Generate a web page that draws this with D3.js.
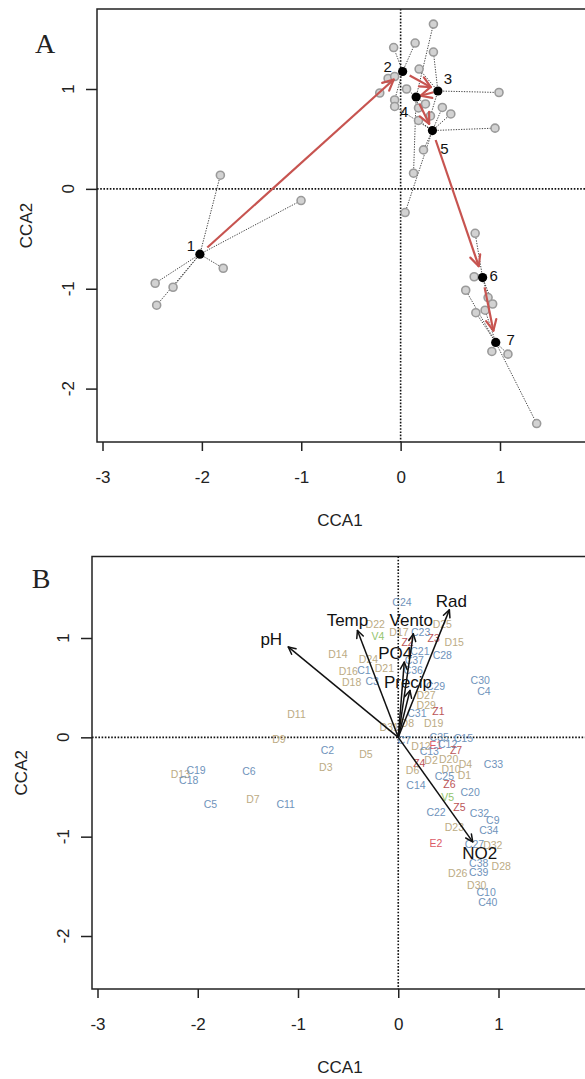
<!DOCTYPE html>
<html>
<head>
<meta charset="utf-8">
<script src="https://cdn.jsdelivr.net/npm/d3@7"></script>
<style>
  body { margin: 0; background: #fff; }
  svg { display: block; font-family: "Liberation Sans", Arial, sans-serif; }
</style>
</head>
<body>
<div id="chart"></div>
<script>
// ---------- 資料 : panel A (時間軌跡) ----------
var stepNames = ["1", "2", "3", "4", "5", "6", "7"];
var stepX = [-2.02, 0.02, 0.375, 0.156, 0.32, 0.825, 0.957];
var stepY = [-0.654, 1.175, 0.98, 0.92, 0.584, -0.888, -1.538];

// 每個樣本屬於哪個時間點
var sampleStep = [1, 1, 1, 1, 1, 1,
                  2, 2, 2, 2, 2, 2,
                  3, 3, 3, 3,
                  4, 4, 4, 4, 4,
                  5, 5, 5, 5, 5, 5, 5,
                  6, 6, 6, 6,
                  7, 7, 7, 7, 7, 7];
var sampleX = [-1.814, -1.002, -1.785, -2.47, -2.29, -2.455,
               -0.07, 0.146, -0.126, -0.06, -0.21, -0.06,
               0.33, 0.99, 0.186, 0.30,
               0.33, 0.06, 0.13, 0.25, 0.18,
               0.95, 0.42, 0.505, 0.23, 0.045, -0.06, 0.18,
               0.75, 0.74, 0.88, 0.926,
               0.655, 0.757, 0.85, 0.918, 1.08, 1.369];
var sampleY = [0.137, -0.117, -0.795, -0.945, -0.985, -1.165,
               1.415, 1.46, 1.105, 1.125, 0.96, 0.89,
               1.37, 0.965, 1.2, 0.73,
               1.65, 1.0, 0.157, 0.85, 0.81,
               0.608, 0.815, 0.75, 0.39, -0.237, 0.825, 0.685,
               -0.445, -0.88, -1.088, -1.153,
               -1.015, -1.24, -1.215, -1.628, -1.655, -2.35];

// ---------- 資料 : panel B (環境變數 + 樣點) ----------
var envNames = ["pH", "Temp", "Vento", "Rad", "PO4", "Precip", "NO2"];
var envX = [-1.097, -0.407, 0.15, 0.51, 0.06, 0.117, 0.743];
var envY = [0.91, 1.075, 1.042, 1.283, 0.757, 0.472, -1.052];

var siteNames = ["C24", "D22", "V4", "D17", "C23", "D25", "Z3", "Z2", "D15", "D14",
  "D24", "C21", "C28", "C37", "C1", "D21", "D16", "C36", "D18", "C3",
  "C29", "C30", "C4", "D27", "D29", "Z1", "C31", "D19", "D8", "D31",
  "D11", "D9", "C35", "C15", "C7", "D12", "E1", "C12", "C13", "Z7",
  "C2", "D5", "D2", "D20", "Z4", "D3", "D6", "D10", "D4", "C33",
  "D13", "C19", "C18", "C6", "C25", "D1", "C14", "Z6", "C20", "V5",
  "D7", "C5", "C11", "Z5", "C22", "C32", "C9", "D23", "C34", "E2",
  "C27", "D32", "C38", "D28", "D26", "C39", "D30", "C10", "C40"];
var siteX = [0.037, -0.23, -0.204, 0.007, 0.223, 0.439, 0.353, 0.093, 0.558, -0.602,
  -0.297, 0.216, 0.439, 0.16, -0.342, -0.138, -0.498, 0.149, -0.465, -0.26,
  0.372, 0.818, 0.855, 0.277, 0.279, 0.401, 0.186, 0.353, 0.09, -0.09,
  -1.015, -1.19, 0.409, 0.65, 0.06, 0.227, 0.377, 0.493, 0.31, 0.577,
  -0.707, -0.323, 0.327, 0.503, 0.21, -0.723, 0.143, 0.527, 0.67, 0.95,
  -2.173, -2.017, -2.09, -1.49, 0.46, 0.66, 0.177, 0.51, 0.717, 0.493,
  -1.45, -1.873, -1.123, 0.61, 0.377, 0.81, 0.943, 0.56, 0.903, 0.377,
  0.76, 0.943, 0.803, 1.027, 0.593, 0.803, 0.783, 0.877, 0.893];
var siteY = [1.367, 1.14, 1.024, 1.059, 1.059, 1.142, 1.003, 0.955, 0.958, 0.84,
  0.789, 0.865, 0.824, 0.779, 0.675, 0.702, 0.668, 0.678, 0.554, 0.564,
  0.519, 0.581, 0.467, 0.422, 0.329, 0.27, 0.246, 0.142, 0.14, 0.10,
  0.235, -0.013, 0.0, -0.007, -0.03, -0.09, -0.08, -0.07, -0.138, -0.124,
  -0.124, -0.164, -0.224, -0.214, -0.258, -0.298, -0.325, -0.315, -0.271, -0.271,
  -0.365, -0.332, -0.425, -0.339, -0.392, -0.382, -0.482, -0.466, -0.55, -0.60,
  -0.616, -0.673, -0.673, -0.70, -0.75, -0.76, -0.834, -0.90, -0.928, -1.062,
  -1.075, -1.085, -1.27, -1.30, -1.364, -1.36, -1.487, -1.555, -1.662];

var xTicks = [-3, -2, -1, 0, 1];
var yTicks = [-2, -1, 0, 1];

// ---------- 版面 ----------
var width = 585, height = 1079;
var svg = d3.select("#chart").append("svg")
  .attr("width", width)
  .attr("height", height);

// 各面板的框與刻度位置 (像素)
var panelA = { left: 97, right: 590, top: 9, bottom: 442, xr: [102.5, 500], yr: [388.6, 89], tag: "A", tagX: 45, tagY: 43 };
var panelB = { left: 92, right: 590, top: 556.5, bottom: 989, xr: [97.5, 498.5], yr: [936, 638], tag: "B", tagX: 41, tagY: 578 };

var axisFont = "17px";

// 畫框、座標軸、虛線原點
function drawFrame(p) {
  var x = d3.scaleLinear().domain([-3, 1]).range(p.xr);
  var y = d3.scaleLinear().domain([-2, 1]).range(p.yr);
  var g = svg.append("g");

  // 原點虛線
  g.append("line")
    .attr("x1", x(0)).attr("x2", x(0))
    .attr("y1", p.top).attr("y2", p.bottom)
    .style("stroke", "#111").style("stroke-width", 1.6)
    .style("stroke-dasharray", "1.6,1.6");
  g.append("line")
    .attr("x1", p.left).attr("x2", p.right)
    .attr("y1", y(0)).attr("y2", y(0))
    .style("stroke", "#111").style("stroke-width", 1.6)
    .style("stroke-dasharray", "1.6,1.6");

  g.append("rect")
    .attr("x", p.left).attr("y", p.top)
    .attr("width", p.right - p.left).attr("height", p.bottom - p.top)
    .style("fill", "none").style("stroke", "#222").style("stroke-width", 1.5);

  // x 軸
  var xAxis = g.append("g")
    .attr("transform", "translate(0," + p.bottom + ")")
    .call(d3.axisBottom(x).tickValues(xTicks).tickSize(9).tickPadding(20)
      .tickFormat(function (d) { return d; }));
  xAxis.select(".domain").remove();
  xAxis.selectAll("line").style("stroke", "#222").style("stroke-width", 1.5);
  xAxis.selectAll("text").style("font-size", axisFont).style("fill", "#222")
    .style("font-family", "Liberation Sans, Arial, sans-serif");

  // y 軸 (刻度文字旋轉)
  var yAxis = g.append("g")
    .attr("transform", "translate(" + p.left + ",0)")
    .call(d3.axisLeft(y).tickValues(yTicks).tickSize(11).tickFormat(""));
  yAxis.select(".domain").remove();
  yAxis.selectAll("line").style("stroke", "#222").style("stroke-width", 1.5);

  g.selectAll(".ylab")
    .data(yTicks)
    .enter().append("text")
    .attr("transform", function (d) { return "translate(" + (p.left - 29) + "," + y(d) + ") rotate(-90)"; })
    .attr("text-anchor", "middle")
    .attr("dominant-baseline", "central")
    .style("font-size", axisFont).style("fill", "#222")
    .text(function (d) { return d; });

  g.append("text")
    .attr("x", 340).attr("y", p.bottom + 78)
    .attr("text-anchor", "middle").attr("dominant-baseline", "central")
    .style("font-size", axisFont).style("fill", "#222")
    .text("CCA1");
  g.append("text")
    .attr("transform", "translate(" + (p.left - 71) + "," + ((p.top + p.bottom) / 2) + ") rotate(-90)")
    .attr("text-anchor", "middle").attr("dominant-baseline", "central")
    .style("font-size", axisFont).style("fill", "#222")
    .text("CCA2");

  g.append("text")
    .attr("x", p.tagX).attr("y", p.tagY)
    .attr("text-anchor", "middle").attr("dominant-baseline", "central")
    .style("font-family", "Liberation Serif, Times New Roman, serif")
    .style("font-size", "28px").style("fill", "#222")
    .text(p.tag);

  return { x: x, y: y, g: g };
}

// 開口箭頭 (兩條短線)
function arrowHead(g, x1, y1, x2, y2, len, color, w) {
  var a = Math.atan2(y2 - y1, x2 - x1);
  var spread = Math.PI / 7;
  [a + Math.PI - spread, a + Math.PI + spread].forEach(function (t) {
    g.append("line")
      .attr("x1", x2).attr("y1", y2)
      .attr("x2", x2 + len * Math.cos(t)).attr("y2", y2 + len * Math.sin(t))
      .style("stroke", color).style("stroke-width", w)
      .style("stroke-linecap", "round");
  });
}

/////////////////////////////// Panel A ///////////////////////////////
var A = drawFrame(panelA);

var samples = sampleX.map(function (v, i) {
  return { x: v, y: sampleY[i], step: sampleStep[i] - 1 };
});

// 樣本到中心的虛線
A.g.selectAll(".spoke")
  .data(samples)
  .enter().append("line")
  .attr("x1", function (d) { return A.x(stepX[d.step]); })
  .attr("y1", function (d) { return A.y(stepY[d.step]); })
  .attr("x2", function (d) { return A.x(d.x); })
  .attr("y2", function (d) { return A.y(d.y); })
  .style("stroke", "#444").style("stroke-width", 1)
  .style("stroke-dasharray", "1.3,1.3");

A.g.selectAll(".sample")
  .data(samples)
  .enter().append("circle")
  .attr("cx", function (d) { return A.x(d.x); })
  .attr("cy", function (d) { return A.y(d.y); })
  .attr("r", 4)
  .style("fill", "#d2d2d2").style("stroke", "#9a9a9a").style("stroke-width", 1.6);

// 紅色軌跡箭頭
var red = "#c75450";
for (var i = 0; i < stepX.length - 1; i++) {
  var px1 = A.x(stepX[i]), py1 = A.y(stepY[i]);
  var px2 = A.x(stepX[i + 1]), py2 = A.y(stepY[i + 1]);
  var dist = Math.hypot(px2 - px1, py2 - py1);
  var ux = (px2 - px1) / dist, uy = (py2 - py1) / dist;
  var s0 = Math.min(10, dist * 0.2), s1 = Math.min(12, dist * 0.2);
  var sx = px1 + ux * s0, sy = py1 + uy * s0;
  var ex = px2 - ux * s1, ey = py2 - uy * s1;
  A.g.append("line")
    .attr("x1", sx).attr("y1", sy).attr("x2", ex).attr("y2", ey)
    .style("stroke", red).style("stroke-width", 2.2);
  arrowHead(A.g, sx, sy, ex, ey, 12, red, 2.2);
}

A.g.selectAll(".step")
  .data(stepNames)
  .enter().append("circle")
  .attr("cx", function (d, i) { return A.x(stepX[i]); })
  .attr("cy", function (d, i) { return A.y(stepY[i]); })
  .attr("r", 4.6)
  .style("fill", "#000");

// 時間點標籤的偏移 (像素)
var stepOffset = [[-9, -9], [-15, -5], [10, -12], [-12, 15], [12, 18], [11, -2], [15, -3]];
A.g.selectAll(".stepLabel")
  .data(stepNames)
  .enter().append("text")
  .attr("x", function (d, i) { return A.x(stepX[i]) + stepOffset[i][0]; })
  .attr("y", function (d, i) { return A.y(stepY[i]) + stepOffset[i][1]; })
  .attr("text-anchor", "middle").attr("dominant-baseline", "central")
  .style("font-size", "15px").style("fill", "#111")
  .text(function (d) { return d; });

/////////////////////////////// Panel B ///////////////////////////////
var B = drawFrame(panelB);

var siteColor = { C: "#6f93bb", D: "#bcab84", Z: "#bb5457", E: "#dc5a66", V: "#92c46c" };

B.g.selectAll(".site")
  .data(siteNames)
  .enter().append("text")
  .attr("x", function (d, i) { return B.x(siteX[i]); })
  .attr("y", function (d, i) { return B.y(siteY[i]); })
  .attr("text-anchor", "middle").attr("dominant-baseline", "central")
  .style("font-size", "10.5px")
  .style("fill", function (d) { return siteColor[d[0]]; })
  .text(function (d) { return d; });

// 環境變數箭頭
var ox = B.x(0), oy = B.y(0);
envNames.forEach(function (name, i) {
  var tx = B.x(envX[i]), ty = B.y(envY[i]);
  B.g.append("line")
    .attr("x1", ox).attr("y1", oy).attr("x2", tx).attr("y2", ty)
    .style("stroke", "#111").style("stroke-width", 1.5);
  arrowHead(B.g, ox, oy, tx, ty, 8, "#111", 1.5);
});

// 標籤相對箭頭尖端的偏移 (像素)
var envOffset = [[-17, -7], [-10, -10], [-2, -13], [2, -8], [-9, -9], [-2, -8], [7, 12]];
B.g.selectAll(".envLabel")
  .data(envNames)
  .enter().append("text")
  .attr("x", function (d, i) { return B.x(envX[i]) + envOffset[i][0]; })
  .attr("y", function (d, i) { return B.y(envY[i]) + envOffset[i][1]; })
  .attr("text-anchor", "middle").attr("dominant-baseline", "central")
  .style("font-size", "17px").style("fill", "#111")
  .text(function (d) { return d; });
</script>
</body>
</html>
